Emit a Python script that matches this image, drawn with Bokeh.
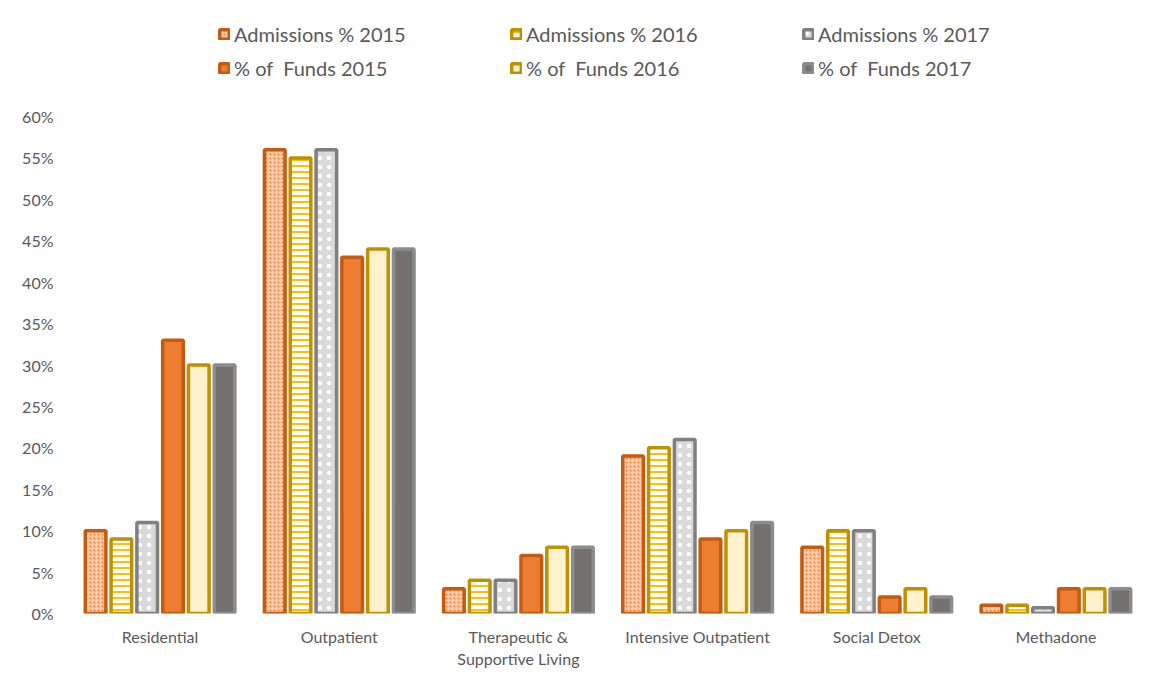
from bokeh.plotting import figure
from bokeh.models import ColumnDataSource, Legend, LegendItem, NumeralTickFormatter, FixedTicker, Range1d
from bokeh.transform import dodge
from bokeh.embed import file_html
from bokeh.resources import INLINE

categories = ["Residential", "Outpatient", "Therapeutic &\nSupportive Living",
              "Intensive Outpatient", "Social Detox", "Methadone"]
adm_2015 = [0.10, 0.56, 0.03, 0.19, 0.08, 0.01]
adm_2016 = [0.09, 0.55, 0.04, 0.20, 0.10, 0.01]
adm_2017 = [0.11, 0.56, 0.04, 0.21, 0.10, 0.007]
funds_2015 = [0.33, 0.43, 0.07, 0.09, 0.02, 0.03]
funds_2016 = [0.30, 0.44, 0.08, 0.10, 0.03, 0.03]
funds_2017 = [0.30, 0.44, 0.08, 0.11, 0.02, 0.03]
series_names = ["Admissions % 2015", "Admissions % 2016", "Admissions % 2017",
                "% of  Funds 2015", "% of  Funds 2016", "% of  Funds 2017"]
y_ticks = [0.0, 0.05, 0.10, 0.15, 0.20, 0.25, 0.30, 0.35, 0.40, 0.45, 0.50, 0.55, 0.60]

source = ColumnDataSource(dict(cat=categories, a15=adm_2015, a16=adm_2016, a17=adm_2017,
                               f15=funds_2015, f16=funds_2016, f17=funds_2017))

p = figure(x_range=categories, y_range=Range1d(0, 0.728), width=1154, height=675,
           output_backend="svg", toolbar_location=None,
           min_border_left=70, min_border_right=9, min_border_top=10, min_border_bottom=62)
p.outline_line_color = None
p.xgrid.grid_line_color = None
p.ygrid.grid_line_color = None
p.x_range.range_padding = 0

pitch = 0.144
bw = 0.115
styles = [
    dict(col="a15", fill_color="#F8CBAD", line_color="#C55A11", hatch_pattern="dot",
         hatch_color="#ED7D31", hatch_scale=4, hatch_weight=2),
    dict(col="a16", fill_color="white", line_color="#BF9000", hatch_pattern="horizontal_line",
         hatch_color="#FFC000", hatch_scale=6, hatch_weight=2),
    dict(col="a17", fill_color="#D9D9D9", line_color="#808080", hatch_pattern="dot",
         hatch_color="white", hatch_scale=9, hatch_weight=1.5),
    dict(col="f15", fill_color="#ED7D31", line_color="#C55A11"),
    dict(col="f16", fill_color="#FFF2CC", line_color="#BF9000"),
    dict(col="f17", fill_color="#767171", line_color="#8C8C8C"),
]
renderers = []
for i, st in enumerate(styles):
    st = dict(st)
    col = st.pop("col")
    r = p.vbar(x=dodge("cat", (i - 2.5) * pitch, range=p.x_range), top=col, width=bw,
               source=source, line_width=3.5, **st)
    renderers.append(r)

legend = Legend(items=[LegendItem(label=n, renderers=[r]) for n, r in zip(series_names, renderers)],
                orientation="horizontal", ncols=3, location=(148, 533),
                glyph_width=12, glyph_height=12, label_width=266, label_height=24,
                label_standoff=4, spacing=10, padding=0, margin=0,
                label_text_font="Lato", label_text_font_size="20px", label_text_color="#595959",
                border_line_color=None, background_fill_alpha=0)
p.add_layout(legend, "center")

p.yaxis.ticker = FixedTicker(ticks=y_ticks)
p.yaxis.formatter = NumeralTickFormatter(format="0%")
p.yaxis.axis_line_color = None
p.yaxis.major_tick_line_color = None
p.yaxis.minor_tick_line_color = None
p.yaxis.major_label_text_font = "Lato"
p.yaxis.major_label_text_font_size = "16px"
p.yaxis.major_label_text_color = "#595959"
p.yaxis.major_label_standoff = 11

p.xaxis.axis_line_color = None
p.xaxis.major_tick_line_color = None
p.xaxis.minor_tick_line_color = None
p.xaxis.major_label_text_font = "Lato"
p.xaxis.major_label_text_font_size = "16px"
p.xaxis.major_label_text_color = "#595959"
p.xaxis.major_label_standoff = 7

open("out.html", "w").write(file_html(p, INLINE))
